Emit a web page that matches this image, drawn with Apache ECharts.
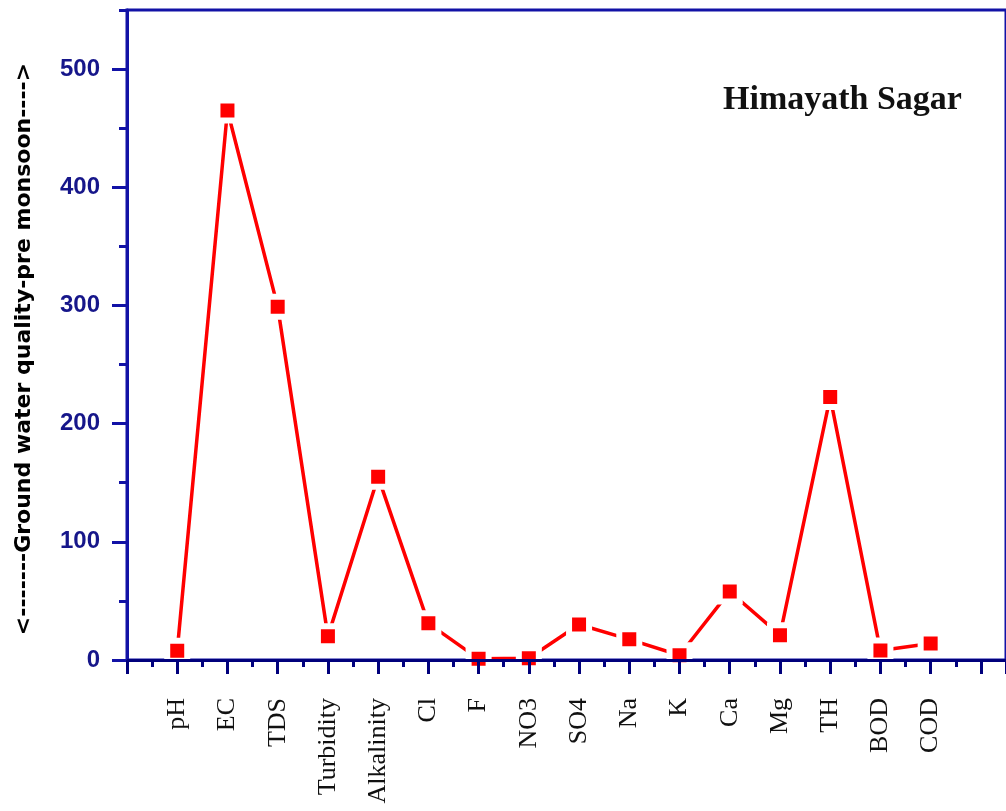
<!DOCTYPE html>
<html>
<head>
<meta charset="utf-8">
<script src="https://cdn.jsdelivr.net/npm/echarts@6/dist/echarts.min.js"></script>
<style>
html,body{margin:0;padding:0;background:#fff;}
#chart{width:1006px;height:811px;}
</style>
</head>
<body>
<div id="chart"></div>
<script>
var categories = ['pH','EC','TDS','Turbidity','Alkalinity','Cl','F','NO3','SO4','Na','K','Ca','Mg','TH','BOD','COD'];
var values = [7.8, 465, 299, 20, 155, 31, 1, 1.5, 30, 17.5, 4, 58, 21, 222.5, 8, 14];
var yTicks = [0, 100, 200, 300, 400, 500];
var titleText = 'Himayath Sagar';
var yName = '<-------Ground water quality-pre monsoon---->';

var seriesData = values.map(function (v, i) { return [i + 1, v]; });

var chart = echarts.init(document.getElementById('chart'));
var yColor = '#1212a6';
var xColor = '#00007c';
chart.setOption({
  animation: false,
  backgroundColor: '#ffffff',
  title: {
    text: titleText,
    left: 718,
    top: 78,
    textStyle: { fontFamily: 'Liberation Serif', fontWeight: 'bold', fontSize: 34, color: '#111' }
  },
  grid: {
    left: 127, top: 10, bottom: 151, right: -9,
    show: true, borderColor: yColor, borderWidth: 3, backgroundColor: 'transparent'
  },
  xAxis: {
    type: 'value',
    min: 0, max: 17.5, interval: 1,
    z: 5,
    axisLine: { show: true, onZero: false, lineStyle: { color: xColor, width: 3 } },
    axisTick: { show: true, length: 14, lineStyle: { color: xColor, width: 3 } },
    minorTick: { show: true, splitNumber: 2, length: 7, lineStyle: { color: xColor, width: 3 } },
    splitLine: { show: false },
    axisLabel: {
      rotate: 90, margin: 38,
      fontFamily: 'Liberation Serif', fontSize: 26, color: '#111',
      formatter: function (v) {
        var i = Math.round(v) - 1;
        return (i >= 0 && i < categories.length && Math.abs(v - i - 1) < 1e-6) ? categories[i] : '';
      }
    }
  },
  yAxis: [{
    type: 'value',
    min: 0, max: 550, interval: 50,
    z: 5,
    name: yName,
    nameLocation: 'middle',
    nameRotate: 90,
    nameGap: 92,
    nameTextStyle: { fontFamily: 'DejaVu Sans', fontWeight: 'bold', fontSize: 22, color: '#000', padding: [0, 28, 0, 0] },
    axisLine: { show: true, lineStyle: { color: yColor, width: 3 } },
    axisTick: { show: true, length: 8, lineStyle: { color: yColor, width: 3 } },
    splitLine: { show: false },
    axisLabel: {
      margin: 27,
      fontFamily: 'Liberation Sans', fontWeight: 'bold', fontSize: 24, color: '#16168a',
      formatter: function (v) { return yTicks.indexOf(v) >= 0 ? String(v) : ''; }
    }
  }, {
    type: 'value',
    position: 'left',
    min: 0, max: 550, interval: 100,
    z: 5,
    axisLine: { show: false },
    axisTick: { show: true, length: 15, customValues: yTicks, lineStyle: { color: yColor, width: 3 } },
    splitLine: { show: false },
    axisLabel: { show: false }
  }],
  series: [{
    type: 'line',
    data: seriesData,
    symbol: 'rect',
    symbolSize: 20,
    lineStyle: { color: '#ff0000', width: 3.5 },
    itemStyle: { color: '#ff0000', borderColor: '#ffffff', borderWidth: 6 },
    z: 2
  }]
});
</script>
</body>
</html>
